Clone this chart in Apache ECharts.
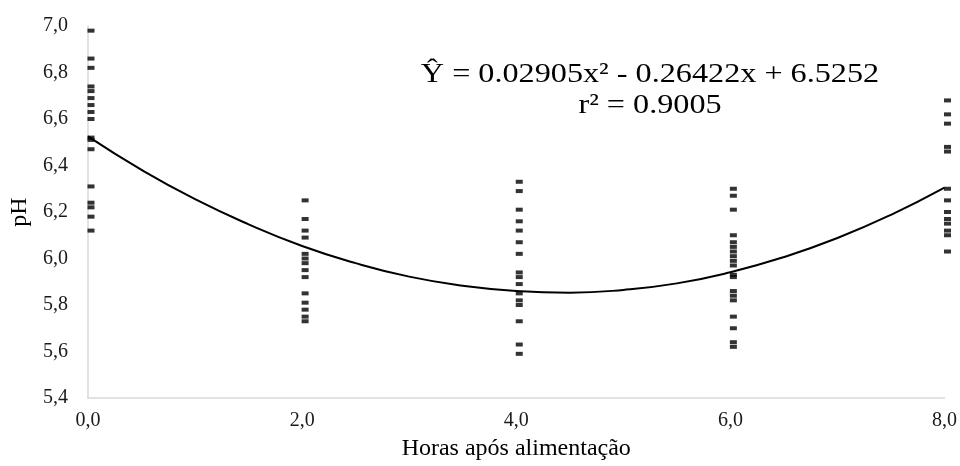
<!DOCTYPE html>
<html>
<head>
<meta charset="utf-8">
<title>pH</title>
<script src="https://cdn.jsdelivr.net/npm/echarts@6/dist/echarts.min.js"></script>
<style>
    html, body { margin: 0; padding: 0; background: #fff; }
    #ph_chart { width: 960px; height: 466px; }
</style>
</head>
<body>
<div id="ph_chart"></div>
<script>
// horas apos alimentacao
var horas = [0, 2, 4, 6, 8];
// valores de pH lidos em cada hora
var ph0 = [6.98, 6.86, 6.82, 6.74, 6.72, 6.69, 6.66, 6.63, 6.60, 6.52, 6.51, 6.47, 6.31, 6.24, 6.22, 6.18, 6.12];
var ph2 = [6.25, 6.17, 6.12, 6.09, 6.02, 6.00, 5.98, 5.95, 5.92, 5.85, 5.81, 5.78, 5.75, 5.73];
var ph4 = [6.33, 6.29, 6.21, 6.16, 6.12, 6.07, 6.02, 5.94, 5.92, 5.89, 5.85, 5.82, 5.80, 5.73, 5.63, 5.59];
var ph6 = [6.30, 6.27, 6.21, 6.10, 6.07, 6.05, 6.03, 6.01, 5.99, 5.97, 5.93, 5.92, 5.86, 5.84, 5.82, 5.75, 5.70, 5.64, 5.62];
var ph8 = [6.68, 6.62, 6.58, 6.48, 6.46, 6.30, 6.25, 6.20, 6.17, 6.15, 6.12, 6.10, 6.03];
// linha de tendencia
var curvaX = [0, 0.5, 1, 1.5, 2, 2.5, 3, 3.5, 4, 4.5, 5, 5.5, 6, 6.5, 7, 7.5, 8];
var curvaY = [6.525, 6.381, 6.255, 6.147, 6.054, 5.980, 5.922, 5.883, 5.860, 5.853, 5.865, 5.893, 5.941, 6.006, 6.088, 6.188, 6.305];
var equacao = 'Ŷ = 0.02905x² - 0.26422x + 6.5252';
var r2 = 'r² = 0.9005';

function virgula(v) {
    return v.toFixed(1).replace('.', ',');
}

function phChart(id) {
    var myChart = echarts.init(document.getElementById(id));
    var grupos = [ph0, ph2, ph4, ph6, ph8];
    var pontos = [];
    for (var i = 0; i < horas.length; i++) {
        for (var j = 0; j < grupos[i].length; j++) {
            pontos.push([horas[i], grupos[i][j]]);
        }
    }
    var curva = [];
    for (var k = 0; k < curvaX.length; k++) {
        curva.push([curvaX[k], curvaY[k]]);
    }
    var fonte = '"Liberation Serif", "Times New Roman", serif';

    var option = {
        animation: false,
        backgroundColor: '#fff',
        textStyle: { fontFamily: fonte },
        grid: {
            left: 86,
            right: 15,
            top: 26,
            bottom: 64
        },
        xAxis: {
            type: 'value',
            min: 0,
            max: 8,
            interval: 2,
            name: 'Horas após alimentação',
            nameLocation: 'middle',
            nameGap: 39,
            nameTextStyle: { fontFamily: fonte, fontSize: 24, color: '#000' },
            axisLine: { lineStyle: { color: '#d9d9d9', width: 1.5 } },
            axisTick: { show: false },
            splitLine: { show: false },
            axisLabel: {
                fontFamily: fonte, fontSize: 20, color: '#1a1a1a', margin: 13,
                formatter: virgula
            }
        },
        yAxis: {
            type: 'value',
            min: 5.4,
            max: 7.0,
            interval: 0.2,
            name: 'pH',
            nameLocation: 'middle',
            nameGap: 56,
            nameTextStyle: { fontFamily: fonte, fontSize: 24, color: '#000' },
            axisLine: { show: true, lineStyle: { color: '#d9d9d9', width: 1.5 } },
            axisTick: { show: false },
            splitLine: { show: false },
            axisLabel: {
                fontFamily: fonte, fontSize: 20, color: '#1a1a1a', margin: 20,
                formatter: virgula
            }
        },
        graphic: [
            {
                type: 'text',
                x: 650,
                y: 75,
                scaleX: 1.15,
                style: {
                    text: equacao, font: '28px ' + fonte, fill: '#000',
                    align: 'center', verticalAlign: 'middle'
                }
            },
            {
                type: 'text',
                x: 650,
                y: 106,
                scaleX: 1.15,
                style: {
                    text: r2, font: '28px ' + fonte, fill: '#000',
                    align: 'center', verticalAlign: 'middle'
                }
            }
        ],
        series: [
            {
                name: 'curva',
                type: 'line',
                data: curva,
                smooth: true,
                showSymbol: false,
                lineStyle: { color: '#000', width: 2 },
                z: 3
            },
            {
                name: 'pH',
                type: 'scatter',
                data: pontos,
                symbol: 'rect',
                symbolSize: [7, 4],
                symbolOffset: [3, 0],
                itemStyle: { color: '#000' },
                z: 4
            }
        ]
    };
    myChart.setOption(option);
}

phChart('ph_chart');
</script>
</body>
</html>
